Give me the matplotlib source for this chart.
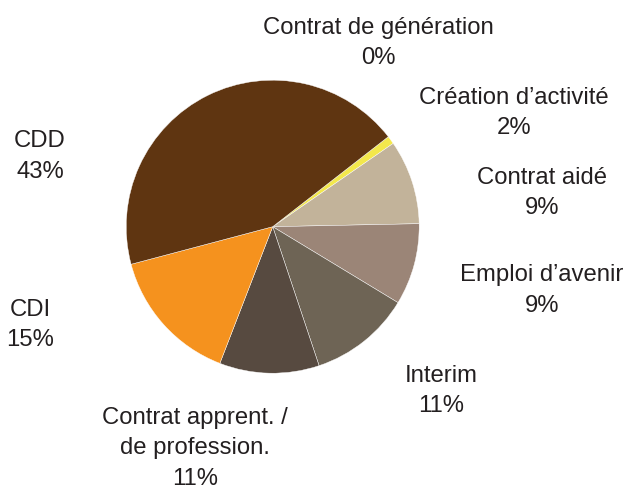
import matplotlib
matplotlib.use("Agg")
import matplotlib.pyplot as plt

# Slices in clockwise order starting from the top-right boundary
categories = ["Contrat de génération", "Création d’activité", "Contrat aidé",
              "Emploi d’avenir", "Interim", "Contrat apprent. /\nde profession.",
              "CDI", "CDD"]
values = [0.0, 0.9, 9.3, 9.0, 11.2, 11.0, 15.0, 43.6]
pct_labels = ["0%", "2%", "9%", "9%", "11%", "11%", "15%", "43%"]
colors = ["#f3e84c", "#f3e84c", "#c2b39a", "#9b8577", "#6e6455", "#574a40",
          "#f5921e", "#5f3511"]

# label centres in pixels (x, y of first line)
label_pos = [(378, 28), (514, 98), (542, 178), (542, 275), (441, 376),
             (195, 418), (30, 310), (40, 141)]

W, H = 628, 489
fig = plt.figure(figsize=(W / 100, H / 100), dpi=100)

cx, cy, r = 272.7, 227.7, 146.5
ax = fig.add_axes([(cx - r) / W, 1 - (cy + r) / H, 2 * r / W, 2 * r / H])
ax.pie(values, colors=colors, startangle=37.9, counterclock=False,
       wedgeprops=dict(edgecolor="white", linewidth=0.3))
ax.set_xlim(-1, 1)
ax.set_ylim(-1, 1)
ax.set_aspect("equal")
ax.axis("off")

line_h = 30.5
for name, pct, (x, y) in zip(categories, pct_labels, label_pos):
    lines = name.split("\n") + [pct]
    for i, t in enumerate(lines):
        fig.text(x / W, 1 - (y + i * line_h) / H, t, ha="center", va="center",
                 fontsize=17.2, family="Liberation Sans", color="#231f20")

fig.savefig("out.png", dpi=100)
